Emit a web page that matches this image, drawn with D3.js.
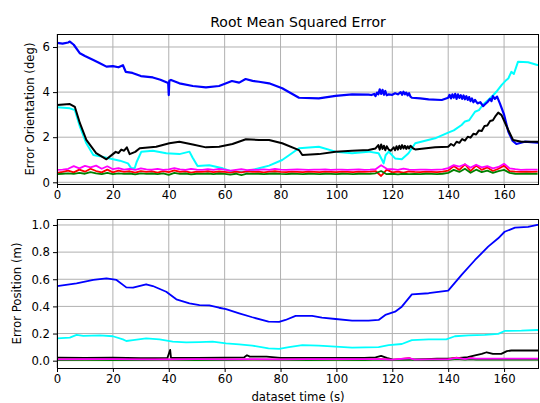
<!DOCTYPE html>
<html>
<head>
<meta charset="utf-8">
<script src="https://cdn.jsdelivr.net/npm/d3@7"></script>
<style>
  html, body { margin: 0; padding: 0; background: #fff; }
  svg text { font-family: "DejaVu Sans", sans-serif; fill: #000; }
</style>
</head>
<body>
<svg id="chart" width="540" height="403"></svg>
<script>
// ---------------- DATA ----------------
const xTicks = [0, 20, 40, 60, 80, 100, 120, 140, 160];
const yTicksTop = [0, 2, 4, 6];
const yTicksBottom = [0.0, 0.2, 0.4, 0.6, 0.8, 1.0];

// Top panel: orientation error (deg)
const tBlueTop = [0,2,4,4.6,6,8.2,10,13,15,17.7,20,22,23.6,24.6,27,30,34.3,37,39.8,40,40.2,40.8,43.8,48.6,53.3,58,62.6,65.2,67.5,70,72.3,75.9,80.6,86.6,93.7,99.7,105.6,111.5,112.5,113.5,114,114.5,115,115.5,116,116.5,117,117.5,118,118.7,120,121,122,123,123.5,124,124.5,125,125.5,126,126.5,127,130,133,137.7,140,140.5,141,141.5,142,142.5,143,143.5,144,144.5,145,145.5,146,146.5,147,147.5,148,148.5,149,149.6,150.5,151.5,152.5,153.1,154,155,155.5,156,156.7,157.5,158.5,160,161.5,163,164.4,167.4,171.9,172.5];
const vBlueTop = [6.18,6.15,6.2,6.24,6.1,5.72,5.6,5.42,5.3,5.13,5.15,5.1,5.19,4.9,4.85,4.71,4.65,4.55,4.4,3.87,4.5,4.54,4.39,4.27,4.21,4.27,4.49,4.42,4.58,4.5,4.46,4.39,4.17,3.75,3.72,3.83,3.9,3.89,3.87,3.92,3.82,3.98,3.9,4.12,3.92,4.1,3.88,4.05,3.86,3.9,3.88,3.95,3.9,4.0,3.88,4.02,3.9,3.98,3.85,3.95,3.8,3.75,3.72,3.68,3.65,3.75,3.88,3.72,3.9,3.75,3.92,3.7,3.9,3.74,3.86,3.7,3.85,3.68,3.82,3.65,3.78,3.6,3.72,3.55,3.65,3.5,3.55,3.38,3.45,3.55,3.7,3.6,3.82,3.7,3.8,3.5,3.0,2.25,1.85,1.7,1.8,1.76,1.76];

const tCyanTop = [0,4.6,6.4,8.2,10.5,13,15.3,18.9,22.5,25.4,26.6,27.8,28.5,30.2,34.3,39.1,43.8,47.4,48.5,50.3,54.5,59.3,62.8,67.6,72.3,75.9,80.6,86.6,93.7,99.7,105.6,111.5,115.1,116.3,116.9,117.6,118.7,121,123.4,125.8,128.2,135.3,140,142,144.8,146,147.5,149.6,151,152.5,154.3,156,157.5,159.1,160.5,161.5,162.6,163.5,165,168.6,171.9,172.5];
const vCyanTop = [3.33,3.28,3.2,2.47,1.73,1.21,1.16,1.06,0.96,0.84,0.62,0.62,0.9,1.36,1.4,1.29,1.25,1.36,1.1,0.72,0.76,0.62,0.47,0.47,0.62,0.74,0.99,1.51,1.58,1.36,1.29,1.36,1.29,1.0,0.84,1.2,1.36,1.06,1.02,1.29,1.73,1.95,2.2,2.3,2.54,2.7,2.75,3.13,3.2,3.45,3.65,3.85,4.05,4.31,4.5,4.6,4.9,4.8,5.35,5.32,5.2,5.2];

const tBlackTop = [0,4.6,6.4,8.2,10.5,14,17.7,20,21,22,23,24,25,26,28,29.6,35.5,40.2,43.8,48.6,53.3,58,62.8,67.6,72.3,75.9,80.6,86.6,87.8,93.7,99.7,105.6,111.5,114,115,115.5,116,116.5,117,117.5,118,118.7,119.5,120.5,121,121.5,122,122.5,123,123.5,124,124.5,125,125.5,126,126.5,127.5,128.2,135.3,140,141,142,143,144,145,146,147,148,149,150,151,152,153,154,155,156,157,157.9,159.1,161.5,163.2,166.2,171.9,172.5];
const vBlackTop = [3.43,3.47,3.34,2.62,1.88,1.29,1.02,1.25,1.35,1.3,1.45,1.4,1.55,1.25,1.35,1.51,1.58,1.73,1.8,1.68,1.55,1.58,1.7,1.91,1.88,1.88,1.73,1.43,1.21,1.25,1.36,1.4,1.43,1.5,1.65,1.45,1.68,1.48,1.62,1.42,1.6,1.45,1.4,1.55,1.42,1.6,1.45,1.62,1.48,1.65,1.5,1.62,1.48,1.6,1.5,1.62,1.5,1.46,1.55,1.58,1.7,1.62,1.8,1.75,1.92,1.85,2.02,1.98,2.15,2.12,2.3,2.28,2.5,2.52,2.72,2.75,2.95,3.09,2.98,2.32,1.88,1.8,1.8,1.8];

const tSmallTop = [0,2,4,6,8,10,12,14,16,18,20,22,24,26,28,30,32,34,36,38,40,42,44,46,48,50,52,54,56,58,60,62,64,66,68,70,72,74,76,78,80,82,84,86,88,90,92,94,96,98,100,102,104,106,108,110,112,114,116,118,120,122,124,126,128,130,132,134,136,138,140,142,144,146,148,150,152,154,156,158,160,162,164,166,168,170,172];
const vMagentaTop = [0.55,0.56,0.6,0.72,0.62,0.73,0.66,0.74,0.6,0.71,0.58,0.63,0.56,0.6,0.55,0.62,0.57,0.56,0.6,0.55,0.57,0.63,0.57,0.55,0.6,0.56,0.55,0.58,0.55,0.6,0.56,0.52,0.55,0.58,0.54,0.56,0.55,0.57,0.55,0.6,0.56,0.55,0.56,0.57,0.56,0.55,0.56,0.56,0.57,0.55,0.56,0.56,0.55,0.56,0.57,0.55,0.56,0.58,0.76,0.6,0.58,0.55,0.61,0.56,0.55,0.56,0.56,0.55,0.56,0.57,0.63,0.76,0.7,0.8,0.65,0.78,0.66,0.72,0.62,0.68,0.82,0.62,0.58,0.55,0.56,0.56,0.56];
const vRedTop = [0.42,0.46,0.52,0.44,0.56,0.47,0.6,0.5,0.44,0.56,0.44,0.52,0.46,0.49,0.43,0.5,0.46,0.49,0.43,0.5,0.45,0.53,0.46,0.49,0.43,0.47,0.46,0.49,0.45,0.48,0.46,0.43,0.47,0.44,0.49,0.46,0.47,0.44,0.47,0.49,0.46,0.45,0.47,0.46,0.45,0.47,0.46,0.45,0.47,0.46,0.45,0.47,0.46,0.45,0.47,0.46,0.47,0.5,0.28,0.56,0.44,0.47,0.43,0.48,0.46,0.45,0.47,0.46,0.45,0.47,0.52,0.72,0.55,0.8,0.5,0.74,0.55,0.66,0.5,0.6,0.74,0.5,0.47,0.46,0.47,0.46,0.47];
const vGreenTop = [0.36,0.38,0.4,0.37,0.42,0.38,0.45,0.4,0.36,0.42,0.36,0.4,0.37,0.39,0.35,0.4,0.37,0.39,0.36,0.4,0.33,0.42,0.37,0.39,0.35,0.38,0.37,0.39,0.36,0.39,0.37,0.34,0.38,0.32,0.38,0.37,0.38,0.36,0.38,0.39,0.37,0.36,0.38,0.37,0.36,0.38,0.37,0.36,0.38,0.37,0.36,0.38,0.37,0.36,0.38,0.37,0.38,0.4,0.5,0.36,0.38,0.35,0.38,0.36,0.37,0.36,0.38,0.37,0.36,0.38,0.42,0.55,0.46,0.6,0.42,0.56,0.45,0.52,0.42,0.5,0.55,0.42,0.38,0.37,0.38,0.37,0.38];

// Bottom panel: position error (m)
const tBlueBottom = [0,7,13,17.7,21.3,24.8,27.2,31.9,34.3,39.1,42.7,47.4,51,54.5,58,60.5,65.2,69.9,75.7,79.5,81.8,85.4,91.3,94.8,99.7,105.6,111.5,115.1,117.5,121,123.4,127,133,140,144.8,149.6,154.3,157.9,160.2,163.9,168.6,171.9,172.5];
const vBlueBottom = [0.55,0.57,0.595,0.607,0.595,0.54,0.538,0.563,0.55,0.508,0.452,0.423,0.41,0.407,0.39,0.38,0.349,0.32,0.288,0.286,0.30,0.33,0.33,0.317,0.307,0.295,0.295,0.30,0.337,0.361,0.398,0.489,0.497,0.516,0.632,0.742,0.84,0.902,0.95,0.98,0.986,1.0,1.0];

const tCyanBottom = [0,4.6,7,9.4,15.3,20,23.6,24.8,27.2,31.9,36.7,41.4,46.2,51,55.7,60.5,65.2,69.9,75.7,79.5,83,87.8,93.7,99.7,105.6,115.1,118.7,123.4,127,133,139.3,142.4,147.2,153.1,157.9,160.2,166.2,171.9,172.5];
const vCyanBottom = [0.165,0.17,0.19,0.183,0.186,0.18,0.157,0.145,0.152,0.165,0.157,0.14,0.135,0.137,0.14,0.128,0.12,0.111,0.091,0.087,0.1,0.115,0.111,0.103,0.096,0.1,0.115,0.123,0.152,0.157,0.157,0.18,0.186,0.19,0.197,0.219,0.221,0.226,0.226];

const tBlackBottom = [0,10,20,30,39.5,40.5,40.8,41.5,50,60,67,68,69,75,80,90,100,110,114,116,118,120,124,128,132,136,140,144,147,150,152,153.8,156,159,161,162.6,166,170,172.5];
const vBlackBottom = [0.022,0.02,0.022,0.018,0.02,0.08,0.02,0.02,0.02,0.022,0.025,0.04,0.03,0.03,0.02,0.02,0.02,0.02,0.025,0.035,0.02,0.01,0.008,0.01,0.012,0.015,0.015,0.02,0.026,0.04,0.05,0.062,0.05,0.05,0.07,0.075,0.076,0.075,0.075];

const tSmallBottom = [0,10,20,30,40,50,60,70,80,90,100,110,116,120,126,128,134,140,143,146,148,150,155,160,166,172.5];
const vMagentaBottom = [0.01,0.011,0.012,0.01,0.01,0.011,0.01,0.011,0.01,0.011,0.012,0.011,0.012,0.008,0.018,0.008,0.01,0.01,0.02,0.012,0.018,0.015,0.015,0.015,0.015,0.015];
const vRedBottom = [0.008,0.009,0.008,0.008,0.009,0.008,0.008,0.009,0.008,0.008,0.009,0.008,0.012,0.006,0.02,0.006,0.008,0.01,0.024,0.01,0.02,0.012,0.012,0.012,0.012,0.012];
const vGreenBottom = [0.004,0.005,0.004,0.004,0.005,0.004,0.004,0.006,0.005,0.004,0.005,0.004,0.006,0.004,0.008,0.004,0.004,0.005,0.012,0.006,0.01,0.006,0.006,0.006,0.006,0.006];

// ---------------- DRAW ----------------
const svg = d3.select("#chart");
const left = 57, right = 539;
const fs = 11.7;

const x = d3.scaleLinear().domain([0, 172.5]).range([left, right]);

function zip(ts, vs) { return ts.map((t, i) => [t, vs[i]]); }

function panel(top, bottom, yDomain, yTicks, fmt, series, ylabel, ylabelX, clipId) {
  const y = d3.scaleLinear().domain(yDomain).range([bottom, top]);
  const g = svg.append("g");
  g.append("clipPath").attr("id", clipId).append("rect")
    .attr("x", left).attr("y", top).attr("width", right - left).attr("height", bottom - top);

  // grid
  g.selectAll(".gx").data(xTicks).enter().append("line")
    .attr("x1", d => x(d)).attr("x2", d => x(d)).attr("y1", top).attr("y2", bottom)
    .attr("stroke", "#b0b0b0").attr("stroke-width", 1);
  g.selectAll(".gy").data(yTicks).enter().append("line")
    .attr("x1", left).attr("x2", right).attr("y1", d => y(d)).attr("y2", d => y(d))
    .attr("stroke", "#b0b0b0").attr("stroke-width", 1);

  // lines
  const line = d3.line().x(d => x(d[0])).y(d => y(d[1]));
  const lg = g.append("g").attr("clip-path", `url(#${clipId})`);
  series.forEach(s => {
    lg.append("path").attr("d", line(zip(s.t, s.v)))
      .attr("fill", "none").attr("stroke", s.color)
      .attr("stroke-width", s.w).attr("stroke-linejoin", "round");
  });

  // axes
  const xa = g.append("g").attr("transform", `translate(0,${bottom})`)
    .call(d3.axisBottom(x).tickValues(xTicks).tickFormat(d3.format("d")).tickSize(4).tickPadding(3));
  const ya = g.append("g").attr("transform", `translate(${left},0)`)
    .call(d3.axisLeft(y).tickValues(yTicks).tickFormat(fmt).tickSize(4).tickPadding(3));
  [xa, ya].forEach(a => {
    a.select(".domain").remove();
    a.selectAll("text").style("font-size", fs + "px").style("font-family", "DejaVu Sans").attr("fill", "#000");
    a.selectAll("line").attr("stroke", "#000").attr("stroke-width", 1);
  });

  // frame
  g.append("rect").attr("x", left + 0.5).attr("y", top + 0.5)
    .attr("width", right - left - 1).attr("height", bottom - top)
    .attr("fill", "none").attr("stroke", "#000").attr("stroke-width", 1);

  g.append("text").attr("transform", `translate(${ylabelX},${(top + bottom) / 2}) rotate(-90)`)
    .attr("text-anchor", "middle").style("font-size", fs + "px").text(ylabel);
}

panel(34, 184, [-0.075, 6.576], yTicksTop, d3.format("d"), [
  { t: tCyanTop, v: vCyanTop, color: "#00ffff", w: 2 },
  { t: tBlueTop, v: vBlueTop, color: "#0000ff", w: 2.2 },
  { t: tBlackTop, v: vBlackTop, color: "#000000", w: 2 },
  { t: tSmallTop, v: vRedTop, color: "#ff0000", w: 1.8 },
  { t: tSmallTop, v: vGreenTop, color: "#008000", w: 1.8 },
  { t: tSmallTop, v: vMagentaTop, color: "#ff00ff", w: 1.8 }
], "Error Orientation (deg)", 34, "clipTop");

panel(219, 368, [-0.054, 1.044], yTicksBottom, d3.format(".1f"), [
  { t: tCyanBottom, v: vCyanBottom, color: "#00ffff", w: 1.8 },
  { t: tBlueBottom, v: vBlueBottom, color: "#0000ff", w: 1.8 },
  { t: tBlackBottom, v: vBlackBottom, color: "#000000", w: 1.8 },
  { t: tSmallBottom, v: vRedBottom, color: "#ff0000", w: 1.5 },
  { t: tSmallBottom, v: vGreenBottom, color: "#008000", w: 1.5 },
  { t: tSmallBottom, v: vMagentaBottom, color: "#ff00ff", w: 1.8 }
], "Error Position (m)", 21, "clipBottom");

svg.append("text").attr("x", (left + right) / 2).attr("y", 27)
  .attr("text-anchor", "middle").style("font-size", "14px").text("Root Mean Squared Error");

svg.append("text").attr("x", (left + right) / 2).attr("y", 401)
  .attr("text-anchor", "middle").style("font-size", fs + "px").text("dataset time (s)");
</script>
</body>
</html>
